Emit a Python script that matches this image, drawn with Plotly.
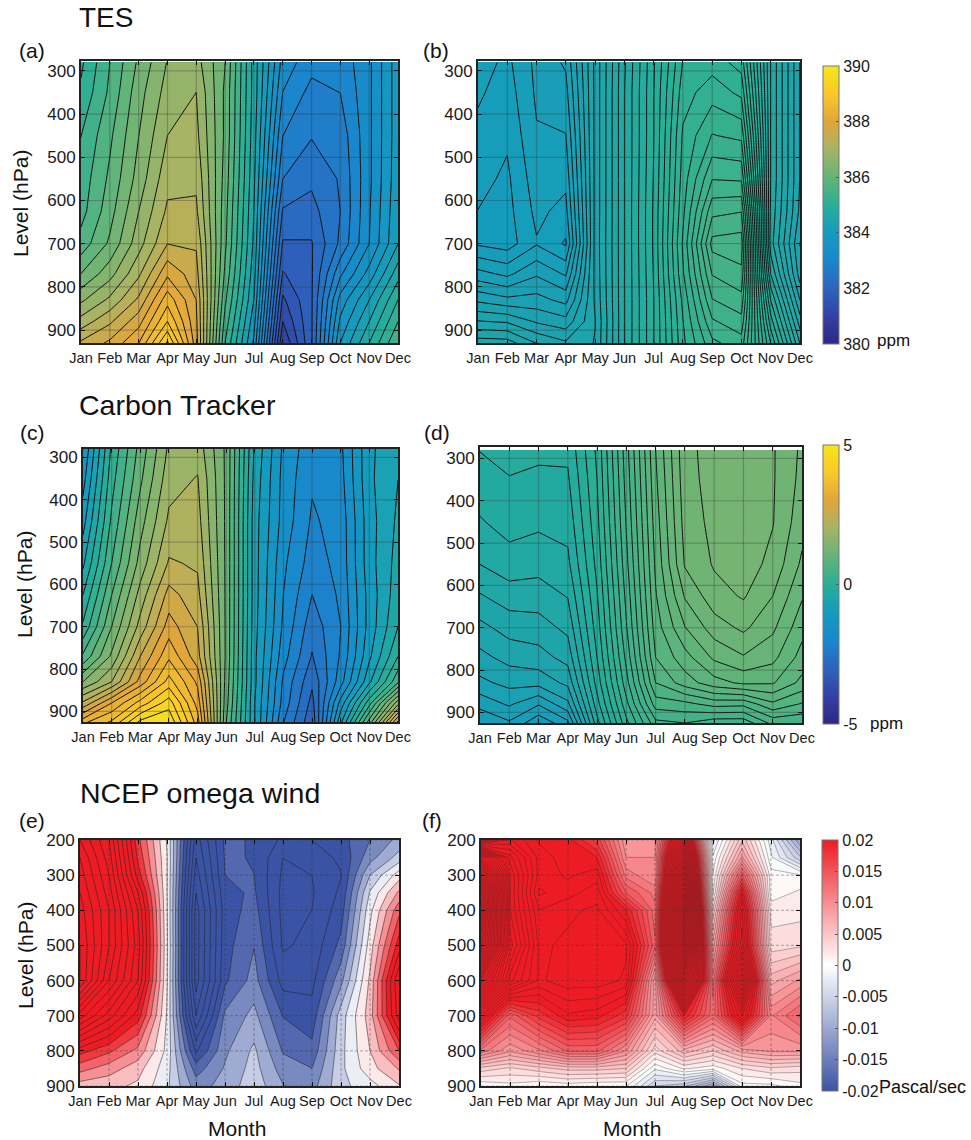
import plotly.graph_objects as go

months = ["Jan", "Feb", "Mar", "Apr", "May", "Jun", "Jul", "Aug", "Sep", "Oct", "Nov", "Dec"]
month_pos = list(range(1, 13))
co2_levels = [280, 350, 450, 550, 625, 700, 770, 830, 880, 930]
wind_levels = [200, 250, 300, 350, 400, 500, 600, 700, 800, 850, 900]

# each inner list is one month, from the top level to the bottom level
panel_a = [
 [384.97, 385.08, 385.31, 385.43, 385.49, 385.72, 386.18, 386.69, 387.15, 387.67],
 [385.6, 385.66, 385.83, 385.95, 386.06, 386.23, 386.64, 387.1, 387.56, 387.96],
 [386.23, 386.35, 386.46, 386.58, 386.75, 386.92, 387.27, 387.67, 388.07, 388.47],
 [386.77, 386.87, 387.04, 387.23, 387.38, 387.61, 388.13, 388.65, 389.05, 389.68],
 [386.87, 387.04, 387.12, 387.27, 387.38, 387.58, 387.73, 387.9, 387.96, 388.02],
 [386.18, 386.12, 386.12, 386.06, 386.0, 385.95, 385.83, 385.66, 385.49, 385.31],
 [384.62, 384.62, 384.57, 384.51, 384.45, 384.39, 384.28, 384.16, 383.99, 383.82],
 [383.19, 383.01, 382.73, 382.44, 382.12, 381.83, 381.55, 381.23, 381.0, 380.71],
 [382.83, 382.63, 382.46, 382.21, 382.05, 381.84, 381.83, 381.83, 381.83, 381.83],
 [382.83, 382.73, 382.55, 382.47, 382.44, 382.5, 382.96, 383.42, 383.65, 383.88],
 [383.24, 383.24, 383.24, 383.24, 383.27, 383.3, 383.7, 384.16, 384.45, 384.74],
 [384.05, 384.05, 384.05, 384.07, 384.11, 384.16, 384.62, 385.03, 385.31, 385.6],
]
panel_b = [
 [384.125, 384.11, 384.0875, 384.0675, 384.051, 384.045, 384.17, 384.29, 384.405, 384.53],
 [384.09, 384.0775, 384.06, 384.0425, 384.035, 384.0275, 384.14, 384.265, 384.395, 384.525],
 [384.165, 384.16, 384.1475, 384.13, 384.115, 384.0975, 384.195, 384.27, 384.345, 384.45],
 [384.21, 384.185, 384.15, 384.115, 384.085, 384.045, 384.145, 384.235, 384.32, 384.41],
 [384.465, 384.465, 384.465, 384.465, 384.465, 384.4675, 384.465, 384.46, 384.45, 384.455],
 [384.695, 384.7, 384.7, 384.7, 384.7, 384.7, 384.7, 384.7, 384.7, 384.7],
 [384.895, 384.9, 384.9, 384.905, 384.91, 384.91, 384.905, 384.9, 384.9, 384.9],
 [385.105, 385.13, 385.16, 385.175, 385.19, 385.21, 385.195, 385.165, 385.15, 385.14],
 [385.13, 385.18, 385.255, 385.35, 385.4375, 385.52, 385.455, 385.4, 385.345, 385.29],
 [385.08, 385.14, 385.24, 385.345, 385.45, 385.53, 385.49, 385.435, 385.385, 385.33],
 [384.65, 384.65, 384.65, 384.65, 384.64, 384.625, 384.7, 384.8, 384.875, 384.95],
 [384.4, 384.4, 384.4, 384.4, 384.39, 384.35, 384.375, 384.45, 384.525, 384.6],
]
panel_c = [
 [-1.56, -1.38, -1.08, -0.72, -0.36, 0.0, 0.6, 1.44, 2.4, 3.54],
 [0.0, 0.12, 0.3, 0.54, 0.84, 1.14, 1.5, 2.04, 3.24, 3.96],
 [0.96, 1.08, 1.32, 1.56, 1.86, 2.16, 2.64, 3.06, 3.96, 4.92],
 [1.8, 1.92, 2.1, 2.38, 2.76, 3.08, 3.48, 3.96, 4.6, 5.05],
 [1.92, 2.06, 2.16, 2.3, 2.44, 2.64, 2.76, 3.18, 3.42, 3.72],
 [1.08, 1.08, 1.08, 1.08, 1.08, 1.08, 1.08, 1.02, 0.96, 0.84],
 [-0.72, -0.78, -0.84, -0.84, -0.84, -0.86, -0.9, -0.9, -0.96, -0.96],
 [-1.62, -1.66, -1.68, -1.8, -1.86, -1.92, -2.04, -2.22, -2.28, -2.46],
 [-2.06, -2.12, -2.2, -2.3, -2.46, -2.64, -2.78, -3.0, -3.16, -3.3],
 [-1.92, -1.96, -2.04, -2.06, -2.1, -2.16, -2.12, -1.98, -1.44, -0.96],
 [-1.02, -1.02, -1.08, -1.08, -1.14, -1.14, -1.02, -0.72, 0.12, 1.08],
 [-0.72, -0.66, -0.6, -0.54, -0.48, -0.36, -0.06, 0.48, 1.92, 3.48],
]
panel_d = [
 [-0.198, -0.232, -0.288, -0.36, -0.448, -0.544, -0.624, -0.7, -0.812, -0.928],
 [-0.176, -0.204, -0.248, -0.316, -0.4, -0.488, -0.572, -0.656, -0.748, -0.864],
 [-0.184, -0.216, -0.264, -0.332, -0.4, -0.476, -0.552, -0.652, -0.832, -1.0],
 [-0.184, -0.212, -0.252, -0.3, -0.356, -0.42, -0.492, -0.58, -0.7, -0.88],
 [0.056, 0.04, 0.016, -0.016, -0.048, -0.08, -0.12, -0.168, -0.232, -0.32],
 [0.488, 0.472, 0.448, 0.416, 0.384, 0.352, 0.304, 0.248, 0.176, 0.088],
 [0.92, 0.904, 0.88, 0.856, 0.832, 0.8, 0.76, 0.68, 0.56, 0.4],
 [1.216, 1.208, 1.192, 1.168, 1.088, 0.996, 0.888, 0.8, 0.576, 0.424],
 [1.272, 1.272, 1.264, 1.248, 1.208, 1.12, 1.016, 0.888, 0.632, 0.36],
 [1.304, 1.304, 1.296, 1.28, 1.248, 1.176, 1.072, 0.936, 0.624, 0.36],
 [1.248, 1.248, 1.244, 1.216, 1.16, 1.096, 1.024, 0.928, 0.744, 0.52],
 [1.144, 1.136, 1.112, 1.064, 1.008, 0.948, 0.888, 0.816, 0.672, 0.52],
]
panel_e = [
 [0.056, 0.06, 0.062, 0.064, 0.066, 0.068, 0.068, 0.046, 0.0216, 0.0136, 0.006],
 [0.044, 0.046, 0.048, 0.05, 0.052, 0.052, 0.048, 0.034, 0.0168, 0.01, 0.0052],
 [0.0172, 0.0192, 0.022, 0.028, 0.032, 0.034, 0.032, 0.022, 0.0108, 0.0056, 0.0032],
 [-0.0004, 0.0002, 0.0002, 0.0002, 0.0004, 0.0008, 0.0004, -0.0004, -0.0012, -0.0024, -0.0032],
 [-0.034, -0.036, -0.038, -0.04, -0.042, -0.042, -0.042, -0.036, -0.0248, -0.018, -0.014],
 [-0.0192, -0.0196, -0.02, -0.0212, -0.022, -0.0216, -0.0208, -0.0152, -0.0128, -0.0116, -0.0104],
 [-0.0204, -0.0202, -0.02, -0.0194, -0.0184, -0.0162, -0.0144, -0.0108, -0.0072, -0.0064, -0.0056],
 [-0.0248, -0.028, -0.0288, -0.0292, -0.0292, -0.0286, -0.0256, -0.0202, -0.0164, -0.014, -0.0118],
 [-0.024, -0.0256, -0.028, -0.0284, -0.028, -0.0268, -0.0252, -0.0224, -0.0188, -0.016, -0.0136],
 [-0.0216, -0.0234, -0.0242, -0.0232, -0.022, -0.0188, -0.0132, -0.006, -0.0052, -0.005, -0.0052],
 [-0.016, -0.0136, -0.008, -0.0036, -0.0012, 0.002, 0.0048, 0.006, 0.004, 0.0024, -0.0016],
 [-0.0108, -0.0064, 0.002, 0.0088, 0.0148, 0.022, 0.032, 0.03, 0.016, 0.0084, 0.0036],
]
panel_f = [
 [0.02, 0.04, 0.052, 0.058, 0.06, 0.056, 0.04, 0.024, 0.012, 0.0045, 0.0002],
 [0.024, 0.028, 0.03, 0.03, 0.03, 0.032, 0.028, 0.014, 0.009, 0.0035, 0.0008],
 [0.021, 0.022, 0.022, 0.021, 0.0225, 0.0235, 0.0235, 0.018, 0.011, 0.0045, 0.0001],
 [0.0205, 0.0205, 0.021, 0.022, 0.0235, 0.024, 0.0245, 0.021, 0.014, 0.0055, 0.0005],
 [0.017, 0.02, 0.022, 0.0232, 0.024, 0.0245, 0.0245, 0.0205, 0.014, 0.0055, 0.0001],
 [0.009, 0.01, 0.012, 0.015, 0.02, 0.024, 0.0235, 0.018, 0.01, 0.005, 0.0001],
 [0.009, 0.01, 0.01, 0.012, 0.013, 0.014, 0.008, 0.008, 0.003, -0.001, -0.005],
 [0.03, 0.038, 0.042, 0.046, 0.048, 0.048, 0.04, 0.02, 0.007, 0.0015, -0.006],
 [-0.003, -0.001, 0.0001, 0.001, 0.004, 0.008, 0.012, 0.013, 0.005, 0.0005, -0.01],
 [0.006, 0.009, 0.015, 0.021, 0.024, 0.026, 0.034, 0.024, 0.008, 0.0025, -0.0005],
 [-0.002, -0.001, 0.0005, 0.0005, 0.002, 0.003, 0.007, 0.011, 0.009, 0.0035, -0.0004],
 [-0.01, -0.006, 0.0001, 0.0015, 0.002, 0.0035, 0.009, 0.014, 0.009, 0.003, 0.0008],
]

W, H = 971, 1140
FONT = "Liberation Sans"
parula = [
 [0.0, "rgb(45,40,130)"], [0.1, "rgb(50,65,165)"], [0.2, "rgb(45,100,190)"], [0.3, "rgb(25,135,205)"],
 [0.4, "rgb(20,155,190)"], [0.5, "rgb(40,175,150)"], [0.6, "rgb(100,180,120)"], [0.7, "rgb(165,180,100)"],
 [0.8, "rgb(225,165,60)"], [0.9, "rgb(250,200,40)"], [1.0, "rgb(245,230,30)"],
]
BLUE, RED = "rgb(59,83,164)", "rgb(237,28,36)"
rwb_bar = [[0, BLUE], [0.5, "rgb(255,255,255)"], [1, RED]]
# wind contours run to +-0.08 and the colours clamp at +-0.02
rwb_wide = [[0, BLUE], [0.375, BLUE], [0.5, "rgb(255,255,255)"], [0.625, RED], [1, RED]]

panels = [
 dict(z=panel_a, lev=co2_levels, box=(81, 398, 61, 343), yr=(930, 277), yt=[300, 400, 500, 600, 700, 800, 900],
      start=379.852, end=390.202, size=0.2875, cs=parula, lc="#111", lw=1.0, dash="solid"),
 dict(z=panel_b, lev=co2_levels, box=(478, 800, 61, 343), yr=(930, 277), yt=[300, 400, 500, 600, 700, 800, 900],
      start=380.002, end=390.002, size=0.05, cs=parula, lc="#111", lw=1.0, dash="solid"),
 dict(z=panel_c, lev=co2_levels, box=(83, 398, 449, 722), yr=(925, 280), yt=[300, 400, 500, 600, 700, 800, 900],
      start=-5.158, end=5.042, size=0.3, cs=parula, lc="#111", lw=1.0, dash="solid"),
 dict(z=panel_d, lev=co2_levels, box=(480, 802, 447, 723), yr=(925, 273), yt=[300, 400, 500, 600, 700, 800, 900],
      start=-5.0004, end=5.0, size=0.08, cs=parula, lc="#111", lw=1.0, dash="solid"),
 dict(z=panel_e, lev=wind_levels, box=(80, 399, 840, 1086), yr=(900, 200), yt=[200, 300, 400, 500, 600, 700, 800, 900],
      start=-0.08002, end=0.08002, size=0.004, cs=rwb_wide, lc="rgba(30,30,30,0.75)", lw=0.7, dash="3px,2px"),
 dict(z=panel_f, lev=wind_levels, box=(481, 800, 840, 1086), yr=(900, 200), yt=[200, 300, 400, 500, 600, 700, 800, 900],
      start=-0.08001, end=0.08001, size=0.00125, cs=rwb_wide, lc="rgba(30,30,30,0.55)", lw=0.6, dash="3px,2px"),
]

fig = go.Figure()
layout = dict(
    width=W, height=H, margin=dict(l=0, r=0, t=0, b=0, autoexpand=False), autosize=False,
    paper_bgcolor="white", plot_bgcolor="white", showlegend=False,
    font=dict(family=FONT, color="#1a1a1a"),
)
for i, p in enumerate(panels):
    n = "" if i == 0 else str(i + 1)
    xa, ya = "x" + n, "y" + n
    l, r, t, b = p["box"]
    layout["xaxis" + n] = dict(
        domain=[l / W, r / W], range=[1, 12], anchor=ya, tickmode="array", tickvals=month_pos, ticktext=months,
        ticks="inside", ticklen=4, tickcolor="#111", tickangle=0, tickfont=dict(size=14.5, family=FONT),
        showline=True, mirror="ticks", linecolor="#222", linewidth=2, showgrid=False, zeroline=False,
        ticklabelstandoff=1,
    )
    layout["yaxis" + n] = dict(
        domain=[1 - b / H, 1 - t / H], range=list(p["yr"]), anchor=xa, tickmode="array", tickvals=p["yt"],
        ticks="inside", ticklen=4, tickcolor="#111", tickfont=dict(size=17, family=FONT),
        showline=True, mirror="ticks", linecolor="#222", linewidth=2, showgrid=False, zeroline=False,
    )
    fig.add_trace(go.Contour(
        x=month_pos, y=p["lev"], z=[list(row) for row in zip(*p["z"])], xaxis=xa, yaxis=ya,
        colorscale=p["cs"], showscale=False, autocontour=False,
        contours=dict(start=p["start"], end=p["end"], size=p["size"], coloring="fill", showlines=True),
        line=dict(color=p["lc"], width=p["lw"], smoothing=0), hoverinfo="skip",
    ))
    # thin grid drawn over the filled contours, at the axis ticks
    gx, gy = [], []
    for m in month_pos[1:-1]:
        gx += [m, m, None]
        gy += [p["yr"][0], p["yr"][1], None]
    for v in p["yt"]:
        gx += [1, 12, None]
        gy += [v, v, None]
    fig.add_trace(go.Scatter(
        x=gx, y=gy, xaxis=xa, yaxis=ya, mode="lines", hoverinfo="skip",
        line=dict(color="rgba(50,50,50,0.32)", width=1.2, dash=p["dash"]),
    ))

bars = [
 dict(ax=2, cs=parula, lo=380, hi=390, x=823, top=66, bottom=344, tv=[380, 382, 384, 386, 388, 390],
      tt=["380", "382", "384", "386", "388", "390"]),
 dict(ax=4, cs=parula, lo=-5, hi=5, x=823, top=445, bottom=724, tv=[-5, 0, 5], tt=["-5", "0", "5"]),
 dict(ax=6, cs=rwb_bar, lo=-0.02, hi=0.02, x=822, top=840, bottom=1091,
      tv=[-0.02, -0.015, -0.01, -0.005, 0, 0.005, 0.01, 0.015, 0.02],
      tt=["-0.02", "-0.015", "-0.01", "-0.005", "0", "0.005", "0.01", "0.015", "0.02"]),
]
for bar in bars:
    fig.add_trace(go.Scatter(
        x=[None], y=[None], xaxis="x%d" % bar["ax"], yaxis="y%d" % bar["ax"], mode="markers", hoverinfo="skip",
        marker=dict(color=[bar["lo"]], cmin=bar["lo"], cmax=bar["hi"], colorscale=bar["cs"], showscale=True,
            colorbar=dict(
                x=bar["x"] / W, xanchor="left", xpad=0, y=1 - bar["top"] / H, yanchor="top", ypad=0,
                lenmode="pixels", len=bar["bottom"] - bar["top"], thicknessmode="pixels", thickness=16,
                outlinecolor="#777", outlinewidth=1, tickmode="array", tickvals=bar["tv"], ticktext=bar["tt"],
                ticks="inside", ticklen=3, tickcolor="#555", tickfont=dict(size=16, family=FONT),
            )),
    ))

notes = [
 ("TES", 77, 17, 28, "left", 0), ("Carbon Tracker", 77, 405, 28.5, "left", 0), ("NCEP omega wind", 78, 793, 28.5, "left", 0),
 ("(a)", 32, 50, 21, "center", 0), ("(b)", 436, 50, 21, "center", 0),
 ("(c)", 32, 432, 21, "center", 0), ("(d)", 437, 432, 21, "center", 0),
 ("(e)", 32, 820, 21, "center", 0), ("(f)", 432, 820, 21, "center", 0),
 ("Level (hPa)", 20, 204, 21, "center", -90), ("Level (hPa)", 24, 585, 21, "center", -90), ("Level (hPa)", 25, 956, 21, "center", -90),
 ("Month", 237, 1128, 21, "center", 0), ("Month", 632, 1128, 21, "center", 0),
 ("ppm", 893, 340, 17, "center", 0), ("ppm", 886, 723, 17, "center", 0), ("Pascal/sec", 922, 1087, 18, "center", 0),
]
layout["annotations"] = [
    dict(text=t, x=x / W, y=1 - y / H, xref="paper", yref="paper", xanchor=a, yanchor="middle", showarrow=False,
         textangle=ang, font=dict(size=s, family=FONT, color="#111"))
    for t, x, y, s, a, ang in notes
]
fig.update_layout(**layout)
fig.write_html("out.html", config=dict(displayModeBar=False),
               post_script="document.body.style.margin='0';document.body.style.overflow='hidden';")
